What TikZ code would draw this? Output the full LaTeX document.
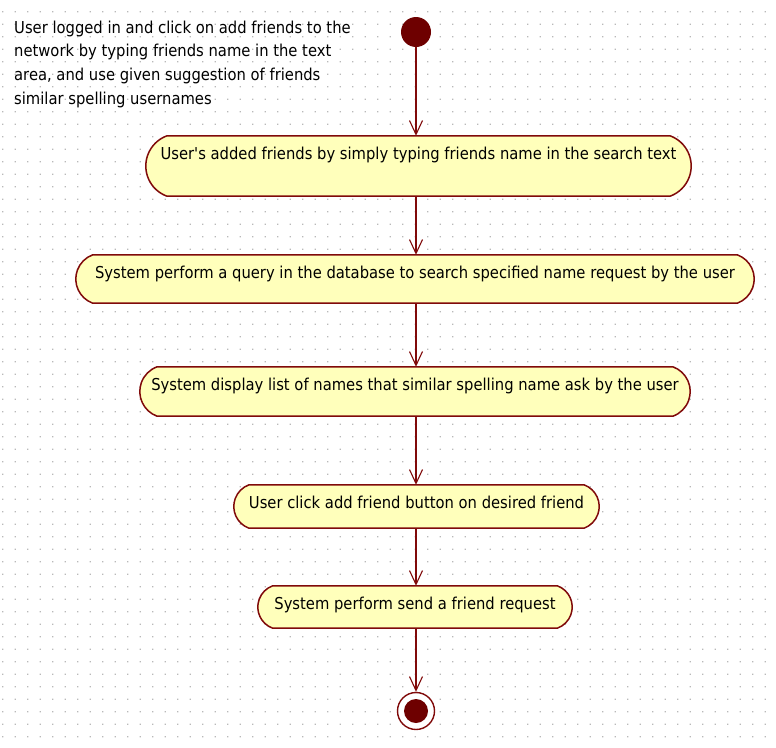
\documentclass[tikz,border=0pt]{standalone}
\usepackage{fontspec}
\setmainfont{DejaVu Sans}[FakeStretch=0.9, Ligatures=TeXOff]
\usetikzlibrary{arrows.meta,calc}
\definecolor{umlred}{RGB}{128,10,10}
\definecolor{umlfill}{RGB}{255,255,187}
\definecolor{startfill}{RGB}{110,0,0}
\definecolor{dotgray}{RGB}{185,185,185}
\pgfdeclarelayer{dots}
\pgfdeclarelayer{shapes}
\pgfsetlayers{dots,shapes,main}
\newcommand{\acttext}[1]{\makebox[0pt][c]{#1}}
\newcommand{\actoutline}[1]{%
  \filldraw[actline] let \p1=(#1.north west), \p2=(#1.south east),
    \n1={(\y1-\y2)/1.8794}, \n2={0.658*\n1} in
    (\x1+\n2,\y1) -- (\x2-\n2,\y1) arc[start angle=70, end angle=-70, radius=\n1]
    -- (\x1+\n2,\y2) arc[start angle=250, end angle=110, radius=\n1] -- cycle;}
\begin{document}
\begin{tikzpicture}[x=1pt,y=-1pt,
  act/.style={rectangle, inner xsep=0pt, inner ysep=0pt,
    font=\fontsize{16.4}{18}\selectfont, text height=23pt},
  actline/.style={draw=umlred, line width=1.5pt, fill=umlfill, line join=round},
  flow/.style={draw=umlred, line width=1.4pt,
    -{Straight Barb[length=14pt,width=13pt,line width=1.1pt]}},
  notetext/.style={anchor=north west, align=left, inner sep=0pt,
    font=\fontsize{16.4}{23.7}\selectfont}
]
\useasboundingbox (0,0) rectangle (776,747);
\begin{pgfonlayer}{dots}
\fill[white] (0,0) rectangle (776,747);
\fill[dotgray] \foreach \i in {0,...,61}{\foreach \j in {0,...,58}{(2+12.5*\i,11+12.5*\j) rectangle ++(1.3,1.3)}};
\end{pgfonlayer}

\node[notetext] (note) at (14,20.5) {User logged in and click on add friends to the\\network by typing friends name in the text\\area, and use given suggestion of friends\\similar spelling usernames};

\node[circle, fill=startfill, minimum size=30pt, inner sep=0pt] (start) at (416,32) {};

\node[act, minimum width=545pt, text depth=37pt] (b1) at (418.5,166) {\acttext{User's added friends by simply typing friends name in the search text}};
\node[act, minimum width=678pt, text depth=25pt] (b2) at (415,279) {\acttext{System perform a query in the database to search specified name request by the user}};
\node[act, minimum width=550pt, text depth=26pt] (b3) at (415,391.5) {\acttext{System display list of names that similar spelling name ask by the user}};
\node[act, minimum width=365pt, text depth=20pt] (b4) at (416.5,506.5) {\acttext{User click add friend button on desired friend}};
\node[act, minimum width=314pt, text depth=19pt] (b5) at (415,607) {\acttext{System perform send a friend request}};

\begin{pgfonlayer}{shapes}
\actoutline{b1}
\actoutline{b2}
\actoutline{b3}
\actoutline{b4}
\actoutline{b5}
\end{pgfonlayer}

\node[circle, draw=umlred, line width=1.4pt, fill=white, minimum size=37pt, inner sep=0pt] (end) at (416,711) {};
\node[circle, fill=startfill, minimum size=24pt, inner sep=0pt] (endin) at (end) {};

\draw[flow] (start) -- (start |- b1.north);
\draw[flow] (start |- b1.south) -- (start |- b2.north);
\draw[flow] (start |- b2.south) -- (start |- b3.north);
\draw[flow] (start |- b3.south) -- (start |- b4.north);
\draw[flow] (start |- b4.south) -- (start |- b5.north);
\draw[flow] (start |- b5.south) -- (end);
\end{tikzpicture}
\end{document}
